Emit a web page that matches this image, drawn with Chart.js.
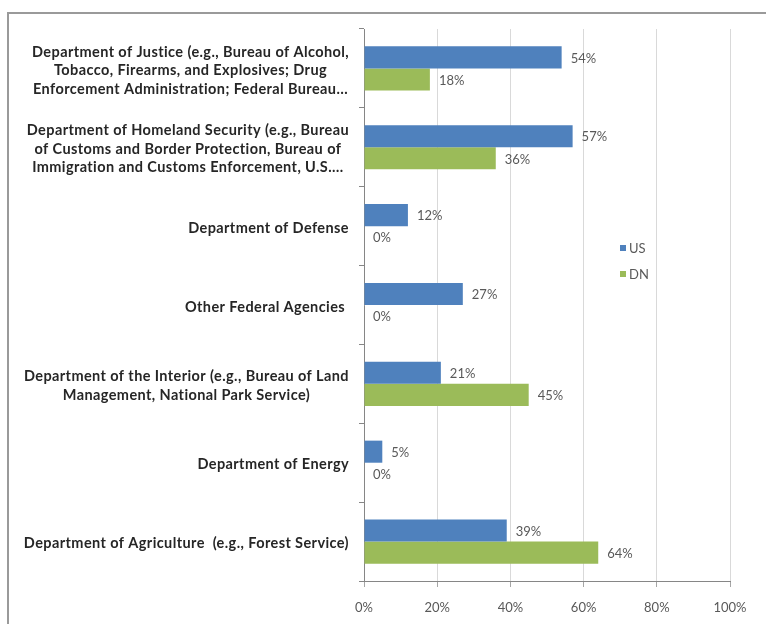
<!DOCTYPE html>
<html>
<head>
<meta charset="utf-8">
<script src="https://cdn.jsdelivr.net/npm/chart.js@4.4.1/dist/chart.umd.min.js"></script>
<style>
  html, body { margin: 0; padding: 0; background: #ffffff; }
  #wrap { width: 766px; height: 624px; position: relative; }
</style>
</head>
<body>
<div id="wrap"><canvas id="c" width="766" height="624"></canvas></div>
<script>
// ---- data ----
const categories = [
  ["Department of Justice (e.g., Bureau of Alcohol,", "Tobacco, Firearms, and Explosives; Drug", "Enforcement Administration; Federal Bureau\u2026"],
  ["Department of Homeland Security (e.g., Bureau", "of Customs and Border Protection, Bureau of", "Immigration and Customs Enforcement, U.S.\u2026"],
  ["Department of Defense"],
  ["Other Federal Agencies "],
  ["Department of the Interior (e.g., Bureau of Land", "Management, National Park Service)"],
  ["Department of Energy"],
  ["Department of Agriculture  (e.g., Forest Service)"]
];
const usValues = [54, 57, 12, 27, 21, 5, 39];
const dnValues = [18, 36, 0, 0, 45, 0, 64];
const seriesNames = ["US", "DN"];
const xTickValues = [0, 20, 40, 60, 80, 100];

const FONT = "Lato, 'Open Sans', 'Liberation Sans', sans-serif";

const framePlugin = {
  id: 'frame',
  beforeDraw(chart) {
    const ctx = chart.ctx;
    ctx.save();
    ctx.fillStyle = '#ffffff';
    ctx.fillRect(0, 0, chart.width, chart.height);
    ctx.strokeStyle = '#9a9a9a';
    ctx.lineWidth = 2;
    ctx.beginPath();
    ctx.moveTo(8, 624);
    ctx.lineTo(8, 13);
    ctx.lineTo(766, 13);
    ctx.stroke();
    ctx.restore();
  }
};

const labelPlugin = {
  id: 'labels',
  afterDraw(chart) {
    const ctx = chart.ctx;
    ctx.save();
    // category labels (block right-aligned, lines centered within block)
    const yScale = chart.scales.y;
    ctx.font = "bold 14.5px " + FONT;
    try { ctx.letterSpacing = '0.4px'; } catch (e) {}
    ctx.fillStyle = '#262626';
    ctx.textBaseline = 'middle';
    ctx.textAlign = 'center';
    const rightEdge = 349;
    const lh = 18.5;
    categories.forEach((lines, i) => {
      const cy = yScale.getPixelForValue(i);
      const w = Math.max(...lines.map(l => ctx.measureText(l).width));
      const cx = rightEdge - w / 2;
      const y0 = cy - (lines.length - 1) * lh / 2 + 2;
      lines.forEach((l, k) => ctx.fillText(l, cx, y0 + k * lh));
    });
    try { ctx.letterSpacing = '0px'; } catch (e) {}
    // data labels
    ctx.font = "13px " + FONT;
    ctx.fillStyle = '#595959';
    ctx.textAlign = 'left';
    chart.data.datasets.forEach((ds, di) => {
      const meta = chart.getDatasetMeta(di);
      meta.data.forEach((el, i) => {
        ctx.fillText(ds.data[i] + '%', el.x + 9, el.y + 1);
      });
    });
    // legend
    ctx.font = "13px " + FONT;
    chart.data.datasets.forEach((ds, di) => {
      const ly = 248 + di * 26;
      ctx.fillStyle = ds.backgroundColor;
      ctx.fillRect(620, ly - 3, 6, 6);
      ctx.fillStyle = '#595959';
      ctx.fillText(ds.label, 629, ly + 1);
    });
    ctx.restore();
  }
};

new Chart(document.getElementById('c'), {
  type: 'bar',
  data: {
    labels: categories.map(c => c.join(' ')),
    datasets: [
      { label: seriesNames[0], data: usValues, backgroundColor: '#4F81BD', categoryPercentage: 0.56, barPercentage: 1.0 },
      { label: seriesNames[1], data: dnValues, backgroundColor: '#9BBB59', categoryPercentage: 0.56, barPercentage: 1.0 }
    ]
  },
  options: {
    indexAxis: 'y',
    responsive: false,
    animation: false,
    devicePixelRatio: 1,
    layout: { padding: { left: 0, right: 36, top: 29, bottom: 0 } },
    plugins: {
      legend: { display: false },
      tooltip: { enabled: false }
    },
    scales: {
      x: {
        min: 0, max: 100,
        afterBuildTicks(scale) { scale.ticks = xTickValues.map(v => ({ value: v })); },
        afterFit(scale) { scale.height = 43; },
        border: { color: '#868686', width: 1 },
        grid: { color: '#d9d9d9', lineWidth: 1, drawTicks: true, tickLength: 6, tickColor: '#a6a6a6' },
        ticks: {
          callback: v => v + '%',
          color: '#595959',
          font: { family: FONT, size: 13 },
          padding: 13,
          maxRotation: 0
        }
      },
      y: {
        afterFit(scale) { scale.width = 364; },
        border: { color: '#868686', width: 1 },
        grid: { drawOnChartArea: false, drawTicks: true, tickLength: 5, tickColor: '#868686', offset: true },
        ticks: { display: false }
      }
    }
  },
  plugins: [framePlugin, labelPlugin]
});
</script>
</body>
</html>
